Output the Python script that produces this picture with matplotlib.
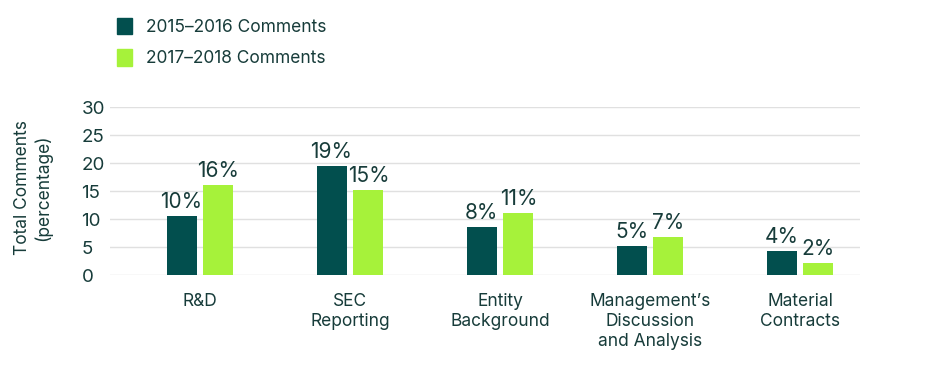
import matplotlib.pyplot as plt
import numpy as np
from matplotlib.patches import Patch

categories = ["R&D", "SEC\nReporting", "Entity\nBackground",
              "Management’s\nDiscussion\nand Analysis", "Material\nContracts"]
vals_1516 = [10.5, 19.5, 8.6, 5.2, 4.3]
vals_1718 = [16.1, 15.2, 11.1, 6.8, 2.1]
labels_1516 = ["10%", "19%", "8%", "5%", "4%"]
labels_1718 = ["16%", "15%", "11%", "7%", "2%"]
series_names = ["2015–2016 Comments", "2017–2018 Comments"]

dark = "#024f4e"
light = "#a6f23a"
text_c = "#173c3a"

plt.rcParams["font.family"] = ["Inter", "DejaVu Sans"]

fig = plt.figure(figsize=(9.45, 3.65), dpi=100)
ax = fig.add_axes([110 / 945, 1 - 275 / 365, 750 / 945, 168 / 365])

x = np.arange(len(categories))
w = 0.2
off = 0.123
b1 = ax.bar(x - off, vals_1516, w, color=dark, zorder=3)
b2 = ax.bar(x + off, vals_1718, w, color=light, zorder=3)

for bars, labs in ((b1, labels_1516), (b2, labels_1718)):
    for r, lab in zip(bars, labs):
        ax.annotate(lab, (r.get_x() + r.get_width() / 2, r.get_height()),
                    xytext=(0, 3), textcoords="offset points",
                    ha="center", va="bottom", fontsize=15, color=text_c)

ax.set_xlim(-0.6, 4.4)
ax.set_ylim(0, 30)
ax.set_yticks(range(0, 31, 5))
ax.grid(axis="y", color="#e0e0e0", linewidth=1, zorder=0)
for s in ax.spines.values():
    s.set_visible(False)

ax.set_xticks(x)
ax.set_xticklabels(categories, fontsize=12.5, color=text_c, linespacing=1.22)
ax.tick_params(axis="x", length=0, pad=13)
ax.tick_params(axis="y", length=0, pad=20.5, labelsize=13.5, labelcolor=text_c)
for t in ax.get_yticklabels():
    t.set_ha("left")

fig.text(33 / 945, 1 - 188 / 365, "Total Comments\n(percentage)", rotation=90,
         ha="center", va="center", fontsize=12.5, color=text_c, linespacing=1.15,
         multialignment="center")

handles = [Patch(color=dark), Patch(color=light)]
fig.legend(handles, series_names, loc="upper left",
           bbox_to_anchor=(101 / 945, 1 - 2 / 365), frameon=False,
           fontsize=12.5, labelcolor=text_c, handlelength=0.9, handleheight=1.1,
           handletextpad=0.8, labelspacing=0.75)

fig.savefig("out.png", dpi=100)
